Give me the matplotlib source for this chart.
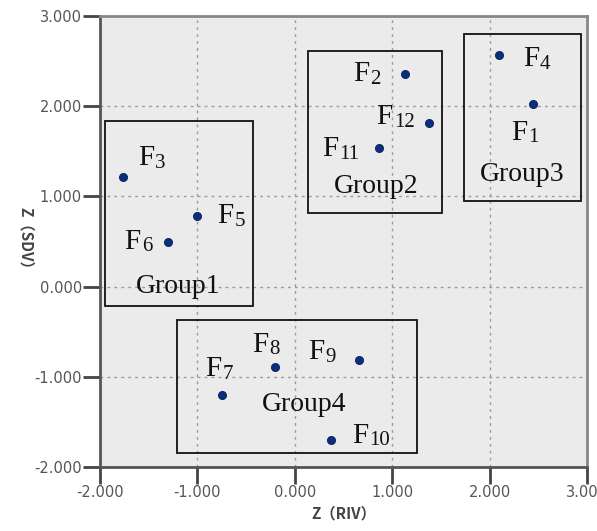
import matplotlib
matplotlib.use("Agg")
import matplotlib.pyplot as plt
from matplotlib.patches import Rectangle

# ---- data ----
names = ["F1", "F2", "F3", "F4", "F5", "F6", "F7", "F8", "F9", "F10", "F11", "F12"]
riv = [2.45, 1.13, -1.76, 2.10, -1.00, -1.30, -0.75, -0.20, 0.66, 0.37, 0.86, 1.38]
sdv = [2.02, 2.36, 1.21, 2.57, 0.78, 0.49, -1.20, -0.89, -0.81, -1.70, 1.54, 1.81]

# label anchor (left, baseline) for each point
lab_x = [2.22, 0.60, -1.61, 2.34, -0.80, -1.75, -0.92, -0.44, 0.14, 0.59, 0.28, 0.84]
lab_y = [1.63, 2.28, 1.35, 2.44, 0.70, 0.42, -0.99, -0.72, -0.80, -1.73, 1.45, 1.80]

groups = ["Group1", "Group2", "Group3", "Group4"]
box_x0 = [-1.95, 0.14, 1.74, -1.21]
box_x1 = [-0.43, 1.51, 2.94, 1.25]
box_y0 = [-0.22, 0.82, 0.95, -1.84]
box_y1 = [1.83, 2.61, 2.80, -0.37]
grp_x = [-1.63, 0.40, 1.90, -0.34]
grp_y = [-0.07, 1.04, 1.17, -1.375]

xticks = [-2, -1, 0, 1, 2, 3]
yticks = [-2, -1, 0, 1, 2, 3]

serif = 'Liberation Serif'
ink = '#111111'

fig = plt.figure(figsize=(5.97, 5.31), dpi=100)
ax = fig.add_axes([0.1675, 0.1205, 0.8157, 0.8495])
ax.set_facecolor('#ebebeb')

ax.scatter(riv, sdv, s=34, color='#0b2f7e', edgecolor='#061c50', linewidth=0.6, zorder=3)

# "F" + subscript number
for n, tx, ty in zip(names, lab_x, lab_y):
    ax.text(tx, ty, 'F', fontsize=21, family=serif, ha='left', va='baseline',
            color=ink, zorder=4)
    ax.annotate(n[1:], (tx, ty), xytext=(12.5, -2), textcoords='offset points',
                fontsize=15, family=serif, ha='left', va='baseline', color=ink, zorder=4)

for g, x0, x1, y0, y1, gx, gy in zip(groups, box_x0, box_x1, box_y0, box_y1, grp_x, grp_y):
    ax.add_patch(Rectangle((x0, y0), x1 - x0, y1 - y0, fill=False,
                           edgecolor=ink, linewidth=1.3, zorder=2))
    ax.text(gx, gy, g, fontsize=20, family=serif,
            ha='left', va='baseline', color=ink, zorder=4)

ax.set_xlim(-2, 3)
ax.set_ylim(-2, 3)
ax.set_xticks(xticks)
ax.set_yticks(yticks)
ax.set_xticklabels(["%.3f" % v for v in xticks])
ax.set_yticklabels(["%.3f" % v for v in yticks])
ax.tick_params(length=12, width=2, color='#444444', labelcolor='#555555',
               labelsize=10.5, pad=1)
ax.grid(True, color='#9a9a9a', linestyle=(0, (2, 3)), linewidth=1)
ax.set_axisbelow(True)

for s in ['left', 'bottom']:
    ax.spines[s].set_color('#555555')
    ax.spines[s].set_linewidth(2)
for s in ['top', 'right']:
    ax.spines[s].set_color('#888888')
    ax.spines[s].set_linewidth(2)

ax.set_xlabel('Z（RIV）', family=['Noto Sans CJK SC', 'DejaVu Sans'], fontsize=11,
              fontweight='bold', color='#444444', labelpad=4)
ax.set_ylabel('Z（SDV）', family=['Noto Sans CJK SC', 'DejaVu Sans'], fontsize=11,
              fontweight='bold', color='#444444', rotation=-90, labelpad=12)

fig.savefig('out.png', dpi=100)
